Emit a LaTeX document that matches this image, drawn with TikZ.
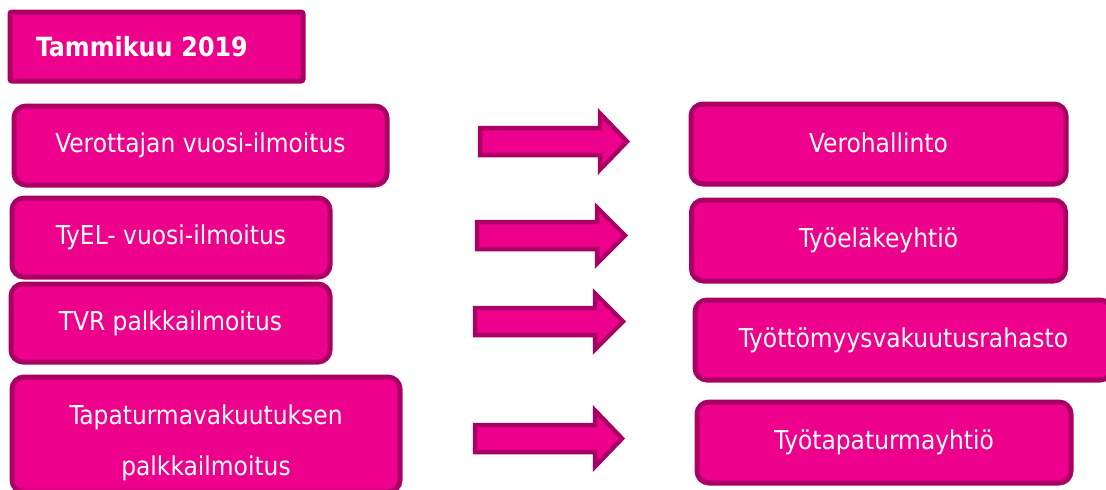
\documentclass[tikz,border=0pt]{standalone}
\usepackage{fontspec}
\setmainfont{DejaVu Sans Condensed}
\usetikzlibrary{calc}
\definecolor{mag}{HTML}{EC008C}
\definecolor{magdark}{HTML}{AA0066}
\tikzset{
  x=1pt,y=-1pt,
  box/.style={draw=magdark,fill=mag,line width=5pt,rounded corners=12pt,text=white,
    font=\fontsize{26}{31}\selectfont,align=center,inner sep=0pt},
  titlebox/.style={draw=magdark,fill=mag,line width=5pt,rounded corners=2pt,text=white,
    font=\bfseries\fontsize{26.5}{31}\selectfont,align=left,inner ysep=0pt,inner xsep=26pt},
  blockarrow/.style={draw=magdark,fill=mag,line width=4.5pt,line join=miter}
}
% #1 shaft left x, #2 head base x, #3 tip x, #4 centre y
\newcommand\bigarrow[4]{%
  \draw[blockarrow] (#1,#4-13.5) -- (#2,#4-13.5) -- (#2,#4-28) -- (#3,#4)
    -- (#2,#4+28) -- (#2,#4+13.5) -- (#1,#4+13.5) -- cycle;}
\begin{document}
\begin{tikzpicture}
\useasboundingbox (0,0) rectangle (1106,490);
\node[titlebox,minimum height=69pt,text width=241pt] (title) at (156.5,46.5) {Tammikuu 2019};

\node[box,minimum width=373pt,minimum height=79pt] (l1) at (200.5,145.5) {\raisebox{3pt}{Verottajan vuosi-ilmoitus}};
\node[box,minimum width=318pt,minimum height=79pt] (l2) at (171,237.5) {\raisebox{3pt}{TyEL- vuosi-ilmoitus}};
\node[box,minimum width=319pt,minimum height=78pt] (l3) at (170.5,323) {\raisebox{3pt}{TVR palkkailmoitus}};
\node[box,minimum width=388pt,minimum height=115pt] (l4) at (206,434.5) {\rule{0pt}{36pt}Tapaturmavakuutuksen\\[20pt]palkkailmoitus};

\node[box,minimum width=375pt,minimum height=80pt] (r1) at (878.5,144) {\raisebox{3pt}{Verohallinto}};
\node[box,minimum width=374pt,minimum height=81pt] (r2) at (878.5,240.5) {\raisebox{3pt}{Työeläkeyhtiö}};
\node[box,minimum width=417pt,minimum height=80pt] (r3) at (903.5,340) {\raisebox{3pt}{Työttömyysvakuutusrahasto}};
\node[box,minimum width=374pt,minimum height=81pt] (r4) at (884,442.5) {\raisebox{2pt}{Työtapaturmayhtiö}};

\bigarrow{480}{600}{627}{141.5}
\bigarrow{477}{597}{625}{235.5}
\bigarrow{475}{595}{623}{321.5}
\bigarrow{475}{595}{622}{438.5}
\end{tikzpicture}
\end{document}
